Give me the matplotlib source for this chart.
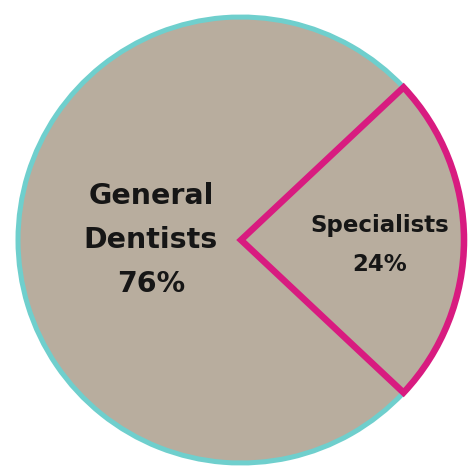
import matplotlib
matplotlib.use("Agg")
import matplotlib.pyplot as plt

# share of dentists (percent)
labels = ["Specialists", "General\nDentists"]
shares = [24, 76]

FILL = "#b8ad9e"
EDGE_GENERAL = "#6fcfcd"
EDGE_SPECIAL = "#d81b80"
INK = "#161616"

fig = plt.figure(figsize=(4.75, 4.75), dpi=100)
ax = fig.add_axes([0, 0, 1, 1])

center = (241, 235)
radius = 223
start = -shares[0] / 100 * 360 / 2

wedges, _ = ax.pie(shares, startangle=start, counterclock=True,
                   center=center, radius=radius, colors=[FILL, FILL],
                   frame=True)
ax.set_xlim(0, 475)
ax.set_ylim(0, 475)
ax.set_aspect("equal")
ax.axis("off")

wedges[1].set_edgecolor(EDGE_GENERAL)
wedges[1].set_linewidth(3.6)
wedges[1].set_zorder(1)
wedges[0].set_edgecolor(EDGE_SPECIAL)
wedges[0].set_linewidth(4.7)
wedges[0].set_joinstyle("miter")
wedges[0].set_zorder(2)

ax.text(151, 475 - 240, f"{labels[1]}\n{shares[1]}%", ha="center", va="center",
        fontsize=20.5, fontweight="bold", color=INK, linespacing=1.72,
        family="DejaVu Sans")
ax.text(380, 475 - 245, f"{labels[0]}\n{shares[0]}%", ha="center", va="center",
        fontsize=16.5, fontweight="bold", color=INK, linespacing=1.85,
        family="DejaVu Sans")

fig.savefig("out.png", dpi=100)
